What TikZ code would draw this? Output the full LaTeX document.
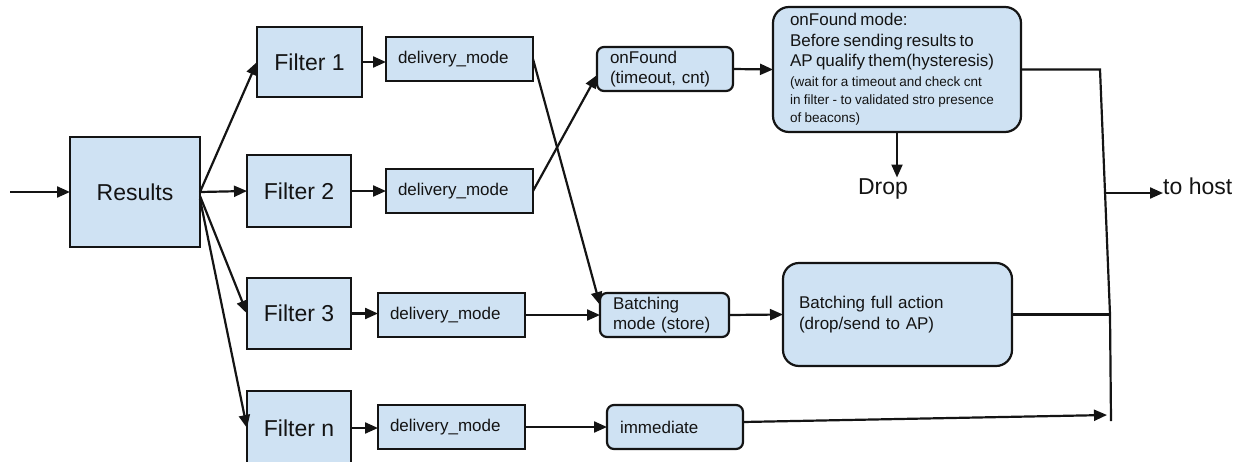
\documentclass[tikz,border=0pt]{standalone}
\usepackage{fontspec}
\setmainfont{Liberation Sans}
\usetikzlibrary{arrows.meta,calc}
\definecolor{boxblue}{HTML}{CFE2F3}
\definecolor{ink}{HTML}{141414}
\begin{document}
\begin{tikzpicture}[x=1pt,y=-1pt,
  every node/.style={text=ink},
  line/.style={draw=ink, line width=2.2pt},
  arr/.style={line, -{Triangle[length=13pt,width=11pt]}},
  sq/.style={draw=ink, line width=2.2pt, fill=boxblue, inner sep=0pt, outer sep=0pt},
  bigbox/.style={sq, font=\fontsize{23}{27}\selectfont},
  dm/.style={sq, minimum width=147pt, minimum height=44pt, text width=123pt, inner xsep=12pt, inner ysep=2pt, align=left, font=\fontsize{17}{20}\selectfont},
  rnd/.style={sq, rounded corners=7pt, minimum height=44pt, inner ysep=2pt, align=left, font=\fontsize{17}{20}\selectfont},
  rndbig/.style={sq, rounded corners=16pt, inner ysep=2pt, align=left},
  plain/.style={font=\fontsize{23}{27}\selectfont}
]
\useasboundingbox (0,0) rectangle (1247,461);

% main boxes
\node[bigbox, minimum width=130pt, minimum height=110pt] (res) at (135,192) {Results};
\coordinate (in) at (10,192);
\node[bigbox, minimum width=105pt, minimum height=70pt] (f1) at (309.5,62) {Filter 1};
\node[bigbox, minimum width=104pt, minimum height=72pt] (f2) at (299,191) {Filter 2};
\node[bigbox, minimum width=104pt, minimum height=71pt] (f3) at (299,313.5) {Filter 3};
\node[bigbox, minimum width=104pt, minimum height=74pt] (fn) at (299,428) {Filter n};

\node[dm] (d1) at (459.5,59) {delivery\_mode};
\node[dm] (d2) at (459.5,191) {delivery\_mode};
\node[dm] (d3) at (451.5,315) {delivery\_mode};
\node[dm] (dn) at (451.5,427) {delivery\_mode};

\node[rnd, minimum width=136pt, text width=110pt, inner xsep=13pt] (of) at (665,69) {onFound\\(timeout, cnt)};
\node[rnd, minimum width=129pt, text width=103pt, inner xsep=13pt] (bm) at (664.5,315) {Batching\\mode (store)};
\node[rnd, minimum width=136pt, text width=110pt, inner xsep=13pt] (im) at (675,427) {immediate};

\node[rndbig, minimum width=248pt, minimum height=125pt, text width=214pt, inner xsep=17pt] (ofm) at (897,69.5)
  {{\fontsize{17}{20.7}\selectfont onFound mode:\\Before sending results to\\AP qualify them(hysteresis)\par}\vskip2pt
   {\fontsize{13.5}{18}\selectfont (wait for a timeout and check cnt\\in filter - to validated stro presence\\of beacons)\par}};
\node[rndbig, minimum width=229pt, minimum height=103pt, text width=197pt, inner xsep=16pt, font=\fontsize{17}{21}\selectfont] (bfa) at (897.5,314.5)
  {Batching full action\\(drop/send to AP)};

\node[plain, inner sep=1pt] (drop) at (883,189) {Drop};
\node[plain, anchor=base west, inner sep=0pt] (host) at (1163,194) {to host};

% connectors
\draw[arr] (in) -- (res.west);
\draw[arr] (res.east) -- (f1.west);
\draw[arr] (res.east) -- (f2.west);
\draw[arr] ($(res.east)+(0,4)$) -- (f3.west);
\draw[arr] ($(res.east)+(0,7)$) -- (fn.west);

\draw[arr] (f1.east) -- (f1.east -| d1.west);
\draw[arr] (f2.east) -- (f2.east -| d2.west);
\draw[arr] (f3.east) -- (f3.east -| d3.west);
\draw[arr] (fn.east) -- (fn.east -| dn.west);

\draw[arr] (d1.east) -- ($(bm.west)+(0,-10)$);
\draw[arr] (d2.east) -- ($(of.west)+(0,6)$);
\draw[arr] (d3.east) -- (bm.west);
\draw[arr] (dn.east) -- (im.west);

\draw[arr] (of.east) -- (ofm.west);
\draw[arr] (bm.east) -- (bfa.west);
\draw[arr] (ofm.south) -- (ofm.south |- drop.north);

\coordinate (j1) at (1100,69.5);
\coordinate (j2) at (1110,314.5);
\coordinate (j3) at (1111,421);
\coordinate (j4) at (1107,415);
\coordinate (j5) at (1106,193);

\draw[line] (ofm.east) -- (j1) -- (j2) -- (j3);
\draw[line] (bfa.east) -- (j2);
\draw[arr] ($(im.east)+(0,-5)$) -- (j4);
\draw[arr] (j5) -- (j5 -| host.west);
\end{tikzpicture}
\end{document}
